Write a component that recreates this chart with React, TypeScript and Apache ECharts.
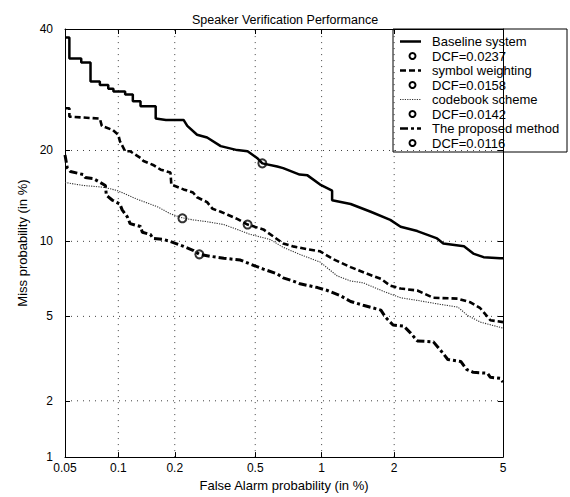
import React, { useEffect, useRef } from "react";
import * as echarts from "echarts";

const chartTitle = "Speaker Verification Performance";
const xAxisName = "False Alarm probability (in %)";
const yAxisName = "Miss probability (in %)";
const xTicks = [0.05, 0.1, 0.2, 0.5, 1, 2, 5];
const yTicks = [1, 2, 5, 10, 20, 40];
const xGrid = [0.1, 0.2, 0.5, 1, 2];
const yGrid = [2, 5, 10, 20];
const xRange = [0.05, 5];
const yRange = [1, 40];

const seriesNames = ["Baseline system", "symbol weighting", "codebook scheme", "The proposed method"];
const dcfNames = ["DCF=0.0237", "DCF=0.0158", "DCF=0.0142", "DCF=0.0116"];

// [false alarm %, miss %]
const baselineCurve: [number, number][] = [
  [0.05, 38.4], [0.053, 38.4], [0.053, 34.6], [0.062, 34.6], [0.062, 33.9], [0.07, 33.9],
  [0.07, 30.6], [0.079, 30.6], [0.079, 30.0], [0.088, 30.0], [0.088, 29.35], [0.094, 29.35],
  [0.094, 28.9], [0.109, 28.9], [0.109, 28.4], [0.12, 28.4], [0.12, 27.3], [0.132, 27.3],
  [0.132, 26.5], [0.159, 26.5], [0.159, 24.6], [0.18, 24.4], [0.222, 24.4], [0.232, 23.5],
  [0.26, 22.2], [0.292, 21.8], [0.341, 20.6], [0.41, 20.05], [0.46, 19.9], [0.51, 19.0],
  [0.54, 18.3], [0.633, 17.9], [0.674, 17.7], [0.8, 16.9], [0.867, 16.8], [0.985, 15.7],
  [1.11, 15.0], [1.11, 13.95], [1.33, 13.55], [1.61, 12.75], [1.93, 11.95], [2.12, 11.3],
  [2.46, 10.9], [2.92, 10.25], [3.08, 9.82], [3.66, 9.58], [3.95, 9.0], [4.29, 8.72],
  [4.89, 8.64], [5, 8.64],
];
const symbolCurve: [number, number][] = [
  [0.05, 26.2], [0.053, 26.2], [0.053, 24.9], [0.079, 24.6], [0.081, 23.5], [0.093, 22.9],
  [0.1, 22.2], [0.102, 21.3], [0.109, 19.9], [0.116, 19.9], [0.132, 19.0], [0.137, 18.6],
  [0.154, 18.1], [0.169, 17.5], [0.19, 17.15], [0.192, 15.7], [0.222, 15.15], [0.248, 14.8],
  [0.26, 14.27], [0.292, 13.75], [0.311, 13.05], [0.341, 12.75], [0.369, 12.45], [0.41, 12.04],
  [0.46, 11.5], [0.546, 11.05], [0.606, 10.43], [0.674, 9.82], [0.746, 9.58], [0.872, 9.34],
  [0.985, 9.18], [1.12, 8.57], [1.33, 7.98], [1.56, 7.51], [1.77, 7.17], [1.93, 6.73],
  [2.12, 6.55], [2.46, 6.43], [2.83, 6.0], [3.48, 5.95], [3.86, 5.74], [4.18, 5.42],
  [4.53, 4.81], [5, 4.72],
];
const codebookCurve: [number, number][] = [
  [0.05, 15.95], [0.0636, 15.6], [0.0825, 15.4], [0.0985, 15.03], [0.127, 14.05], [0.163, 13.25],
  [0.19, 12.54], [0.219, 12.14], [0.248, 11.95], [0.292, 11.77], [0.353, 11.5], [0.41, 11.05],
  [0.474, 10.6], [0.587, 10.16], [0.674, 9.5], [0.8, 8.94], [0.985, 8.35], [1.166, 7.37],
  [1.33, 7.03], [1.5, 6.91], [1.82, 6.37], [2.12, 6.0], [2.46, 5.85], [3.0, 5.63],
  [3.48, 5.48], [3.77, 5.05], [4.18, 4.72], [5, 4.44],
];
const proposedCurve: [number, number][] = [
  [0.05, 19.4], [0.0515, 17.75], [0.0537, 17.27], [0.0636, 16.9], [0.0653, 16.54], [0.0724, 16.42],
  [0.0795, 15.94], [0.0848, 15.6], [0.0859, 14.49], [0.0928, 13.95], [0.102, 13.55], [0.105, 12.94],
  [0.112, 12.24], [0.116, 11.59], [0.132, 11.32], [0.135, 10.79], [0.149, 10.6], [0.154, 10.25],
  [0.175, 10.16], [0.19, 9.98], [0.222, 9.58], [0.248, 9.26], [0.267, 8.94], [0.302, 8.79],
  [0.353, 8.64], [0.425, 8.5], [0.474, 8.2], [0.546, 7.84], [0.633, 7.51], [0.674, 7.24],
  [0.746, 7.03], [0.803, 6.85], [0.96, 6.61], [1.06, 6.43], [1.2, 6.13], [1.33, 5.79],
  [1.5, 5.58], [1.77, 5.32], [1.85, 4.95], [1.98, 4.58], [2.18, 4.53], [2.32, 4.22],
  [2.46, 3.89], [2.83, 3.85], [3.0, 3.54], [3.2, 3.19], [3.57, 3.12], [3.74, 2.86],
  [3.95, 2.77], [4.43, 2.74], [4.53, 2.62], [4.89, 2.59], [5, 2.48],
];
// DCF operating points [false alarm %, miss %]
const dcfPoints: [number, number][] = [
  [0.54, 18.3], [0.46, 11.5], [0.219, 12.1], [0.267, 8.94],
];

const FONT = "'Liberation Sans', Arial, Helvetica, sans-serif";

// Normal deviate (probit) scale used by DET plots
function probit(p: number): number {
  const a = [-3.969683028665376e1, 2.209460984245205e2, -2.759285104469687e2, 1.38357751867269e2, -3.066479806614716e1, 2.506628277459239];
  const b = [-5.447609879822406e1, 1.615858368580409e2, -1.556989798598866e2, 6.680131188771972e1, -1.328068155288572e1];
  const c = [-7.784894002430293e-3, -3.223964580411365e-1, -2.400758277161838, -2.549671010862326, 4.374664141464968, 2.938163982698783];
  const d = [7.784695709041462e-3, 3.224671290700398e-1, 2.445134137142996, 3.754408661907416];
  const pLow = 0.02425;
  const pHigh = 1 - pLow;
  if (p < pLow) {
    const q = Math.sqrt(-2 * Math.log(p));
    return (((((c[0] * q + c[1]) * q + c[2]) * q + c[3]) * q + c[4]) * q + c[5]) / ((((d[0] * q + d[1]) * q + d[2]) * q + d[3]) * q + 1);
  }
  if (p <= pHigh) {
    const q = p - 0.5;
    const r = q * q;
    return ((((((a[0] * r + a[1]) * r + a[2]) * r + a[3]) * r + a[4]) * r + a[5]) * q) / (((((b[0] * r + b[1]) * r + b[2]) * r + b[3]) * r + b[4]) * r + 1);
  }
  const q = Math.sqrt(-2 * Math.log(1 - p));
  return -(((((c[0] * q + c[1]) * q + c[2]) * q + c[3]) * q + c[4]) * q + c[5]) / ((((d[0] * q + d[1]) * q + d[2]) * q + d[3]) * q + 1);
}
const pz = (pct: number) => probit(pct / 100);
const toXY = (pts: [number, number][]) => pts.map(([x, y]) => [pz(x), pz(y)]);
const tickLabel = (ticks: number[]) => (v: number) => {
  const t = ticks.find((k) => Math.abs(pz(k) - v) < 1e-6);
  return t === undefined ? "" : String(t);
};

const lineStyles = [
  { width: 2.5, type: "solid" as any, color: "#000" },
  { width: 2.6, type: [6, 3] as any, color: "#000" },
  { width: 1.1, type: [1.2, 1.2] as any, color: "#333" },
  { width: 3, type: [8, 3, 3, 3] as any, color: "#000" },
];
const curves = [baselineCurve, symbolCurve, codebookCurve, proposedCurve];

export default function App() {
  const ref = useRef<HTMLDivElement>(null);
  useEffect(() => {
    if (!ref.current) return;
    const chart = echarts.init(ref.current, undefined, { renderer: "svg" });
    const xMin = pz(xRange[0]);
    const xMax = pz(xRange[1]);
    const yMin = pz(yRange[0]);
    const yMax = pz(yRange[1]);
    const gridStyle = { color: "#000", width: 1, type: [1, 5] as any, opacity: 0.75 };

    const series: any[] = [];
    xGrid.forEach((g) =>
      series.push({ type: "line", silent: true, symbol: "none", data: [[pz(g), yMin], [pz(g), yMax]], lineStyle: gridStyle, z: 1 })
    );
    yGrid.forEach((g) =>
      series.push({ type: "line", silent: true, symbol: "none", data: [[xMin, pz(g)], [xMax, pz(g)]], lineStyle: gridStyle, z: 1 })
    );
    curves.forEach((c, i) =>
      series.push({ type: "line", name: seriesNames[i], symbol: "none", data: toXY(c), lineStyle: lineStyles[i], z: 3 })
    );
    dcfPoints.forEach((p, i) =>
      series.push({
        type: "scatter",
        name: dcfNames[i],
        symbol: "circle",
        symbolSize: 8,
        data: toXY([p]),
        itemStyle: { color: "rgba(0,0,0,0)", borderColor: "#000", borderWidth: 2 },
        z: 4,
      })
    );

    const legendX = 393;
    const legendY = 29;
    const rowY0 = 41.5;
    const rowStep = 14.5;
    const legendChildren: any[] = [
      { type: "rect", shape: { x: legendX, y: legendY, width: 174, height: 123 }, style: { fill: "#fff", stroke: "#000", lineWidth: 1 } },
    ];
    seriesNames.forEach((name, i) => {
      const yLine = rowY0 + rowStep * 2 * i;
      const yDot = yLine + rowStep;
      const ls = lineStyles[i];
      legendChildren.push({
        type: "line",
        shape: { x1: 400, y1: yLine, x2: 421, y2: yLine },
        style: { stroke: ls.color, lineWidth: Math.min(ls.width, 2.5), lineDash: Array.isArray(ls.type) ? ls.type : null },
      });
      legendChildren.push({
        type: "text", x: 432, y: yLine,
        style: { text: name, fontSize: 13, fontFamily: FONT, fill: "#000", verticalAlign: "middle" },
      });
      legendChildren.push({
        type: "circle", shape: { cx: 412.5, cy: yDot, r: 3 },
        style: { fill: "none", stroke: "#000", lineWidth: 2 },
      });
      legendChildren.push({
        type: "text", x: 432, y: yDot,
        style: { text: dcfNames[i], fontSize: 13, fontFamily: FONT, fill: "#000", verticalAlign: "middle" },
      });
    });

    const axisCommon = {
      type: "value",
      splitLine: { show: false },
      axisLine: { show: true, onZero: false, lineStyle: { color: "#000", width: 1 } },
    };

    chart.setOption({
      animation: false,
      title: {
        text: chartTitle,
        left: 280,
        textAlign: "center",
        top: 8,
        textStyle: { fontSize: 12.5, fontWeight: "normal", color: "#000", fontFamily: FONT },
      },
      grid: { left: 65, top: 29, width: 438, height: 435, containLabel: false },
      xAxis: [
        {
          ...axisCommon,
          min: xMin,
          max: xMax,
          position: "bottom",
          name: xAxisName,
          nameLocation: "middle",
          nameGap: 16,
          nameTextStyle: { fontSize: 13, color: "#000", fontFamily: FONT },
          axisTick: { show: true, inside: true, length: 5, customValues: xTicks.map(pz), lineStyle: { color: "#000" } },
          axisLabel: { customValues: xTicks.map(pz), formatter: tickLabel(xTicks), fontSize: 12, color: "#000", margin: 5, fontFamily: FONT },
        },
        {
          ...axisCommon,
          min: xMin,
          max: xMax,
          position: "top",
          axisTick: { show: true, inside: true, length: 5, customValues: xTicks.map(pz), lineStyle: { color: "#000" } },
          axisLabel: { show: false },
        },
      ],
      yAxis: [
        {
          ...axisCommon,
          min: yMin,
          max: yMax,
          position: "left",
          name: yAxisName,
          nameLocation: "middle",
          nameGap: 33,
          nameTextStyle: { fontSize: 13, color: "#000", fontFamily: FONT },
          axisTick: { show: true, inside: true, length: 5, customValues: yTicks.map(pz), lineStyle: { color: "#000" } },
          axisLabel: { customValues: yTicks.map(pz), formatter: tickLabel(yTicks), fontSize: 12, color: "#000", margin: 12, fontFamily: FONT },
        },
        {
          ...axisCommon,
          min: yMin,
          max: yMax,
          position: "right",
          axisTick: { show: true, inside: true, length: 5, customValues: yTicks.map(pz), lineStyle: { color: "#000" } },
          axisLabel: { show: false },
        },
      ],
      series,
      graphic: [{ type: "group", z: 100, children: legendChildren }],
    });
    return () => chart.dispose();
  }, []);
  return (
    <div
      ref={ref}
      style={{ position: "fixed", left: 0, top: 0, width: 570, height: 497, background: "#fff" }}
    />
  );
}
